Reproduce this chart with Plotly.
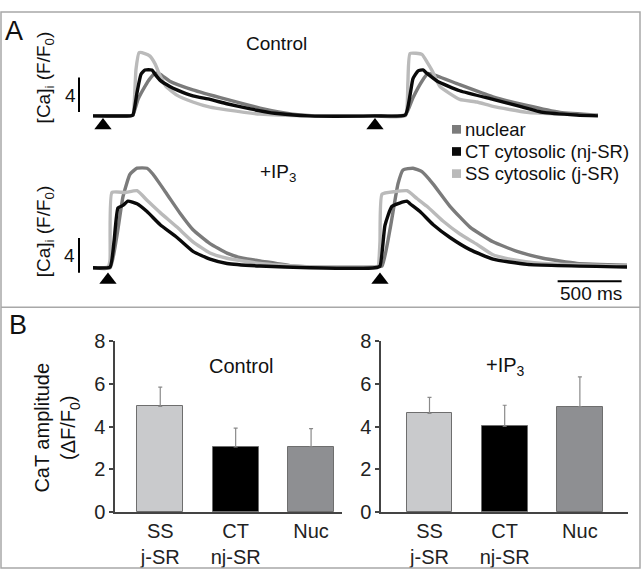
import plotly.graph_objects as go

W, H = 642, 581


def px(x):
    return x / W


def py(y):
    return 1 - y / H


# ---------------- data ----------------
# Panel A, Control: time (ms) and [Ca]i (F/F0)
ctrl_nuc_t = [0, 290, 312, 352, 406, 445, 485, 525, 600, 780, 1045, 1305, 1560, 1770, 2200,
              2440, 2500, 2570, 2617, 2690, 2865, 3125, 3390, 3650, 3945]
ctrl_nuc = [1.0, 1.0, 1.1, 2.9, 4.4, 5.3, 5.9, 5.8, 5.0, 4.0, 2.9, 1.9, 1.2, 1.0, 1.0,
            1.1, 3.1, 5.0, 5.9, 5.6, 4.6, 3.2, 2.2, 1.4, 1.1]

ctrl_ct_t = [0, 290, 312, 344, 375, 406, 460, 490, 525, 600, 655, 780, 915, 1045, 1230, 1420,
             1695, 2200, 2440, 2477, 2500, 2540, 2578, 2610, 2690, 2865, 3125, 3336, 3516,
             3780, 3945]
ctrl_ct = [1.0, 1.0, 1.1, 3.7, 5.8, 6.3, 6.3, 5.7, 5.1, 4.4, 4.0, 3.3, 2.9, 2.4, 1.8, 1.3,
           1.0, 1.0, 1.1, 3.4, 5.3, 6.2, 6.3, 5.9, 5.0, 3.9, 2.9, 2.1, 1.4, 1.1, 1.0]

ctrl_ss_t = [0, 290, 312, 336, 360, 405, 445, 485, 525, 570, 655, 780, 915, 1045, 1305, 1695,
             2200, 2440, 2460, 2477, 2570, 2610, 2650, 2710, 2865, 3000, 3125, 3390, 3650,
             3945]
ctrl_ss = [1.0, 1.0, 1.1, 6.4, 8.3, 8.2, 7.9, 7.0, 5.6, 4.4, 3.4, 2.6, 2.0, 1.7, 1.2, 1.0,
           1.0, 1.0, 4.8, 8.2, 8.1, 7.2, 6.2, 4.4, 2.9, 2.6, 2.1, 1.4, 1.2, 1.1]

ctrl_stim_t = [78, 2203]

# Panel A, +IP3
ip3_nuc_t = [0, 133, 188, 234, 289, 344, 422, 469, 578, 680, 781, 914, 1047, 1172, 1305, 1562,
             1695, 2203, 2258, 2320, 2383, 2422, 2500, 2570, 2656, 2789, 2945, 3125, 3313,
             3516, 3781, 4172]
ip3_nuc = [0.9, 0.9, 4.7, 9.1, 11.7, 12.4, 12.4, 11.7, 9.4, 7.2, 5.3, 3.7, 2.6, 2.0, 1.7, 1.1,
           1.0, 1.0, 1.1, 5.3, 10.6, 12.2, 12.4, 12.0, 10.6, 8.0, 5.6, 3.9, 2.8, 2.0, 1.4, 1.2]

ip3_ct_t = [0, 133, 164, 195, 234, 273, 344, 422, 523, 656, 781, 914, 1047, 1305, 1695, 2203,
            2242, 2281, 2336, 2453, 2477, 2555, 2656, 2789, 2945, 3125, 3391, 4172]
ip3_ct = [0.9, 1.0, 3.9, 7.8, 8.1, 8.6, 8.3, 7.4, 5.9, 4.4, 2.8, 1.9, 1.4, 1.1, 0.9, 0.9,
          1.1, 5.8, 8.0, 8.6, 8.3, 7.4, 5.9, 4.4, 3.0, 1.9, 1.3, 1.0]

ip3_ss_t = [0, 117, 133, 148, 250, 344, 422, 523, 656, 781, 914, 1047, 1305, 1562, 1695, 2203,
            2227, 2242, 2258, 2359, 2453, 2531, 2609, 2734, 2867, 3000, 3125, 3258, 3516, 4172]
ip3_ss = [0.9, 1.0, 1.8, 9.6, 9.6, 9.8, 8.7, 7.3, 5.6, 3.9, 2.6, 2.0, 1.4, 1.1, 1.0, 1.0,
          1.1, 3.9, 9.4, 9.7, 9.8, 8.9, 8.0, 6.3, 4.8, 3.6, 2.4, 1.9, 1.4, 1.1]

ip3_stim_t = [117, 2242]

# Panel B, CaT amplitude (dF/F0), mean and SEM
bar_cats = ["SS<br>j-SR", "CT<br>nj-SR", "Nuc"]
ctrl_amp = [4.95, 3.05, 3.05]
ctrl_sem = [0.90, 0.88, 0.86]
ip3_amp = [4.62, 4.02, 4.92]
ip3_sem = [0.75, 0.98, 1.40]

legend_names = ["nuclear", "CT cytosolic (nj-SR)", "SS cytosolic (j-SR)"]

# ---------------- style ----------------
FONT = "Liberation Sans, Arial, Helvetica, sans-serif"
C_NUC = "#7b7b7b"
C_CT = "#0a0a0a"
C_SS = "#bababa"
BAR_COLORS = ["#c9cacc", "#000000", "#8e8f92"]

fig = go.Figure()


def add_traces(series, xa, ya):
    for t, v, c in series:
        fig.add_trace(go.Scatter(x=t, y=v, mode="lines",
                                 line=dict(color=c, width=3.4, shape="spline", smoothing=0.45),
                                 xaxis=xa, yaxis=ya, showlegend=False, hoverinfo="skip"))


add_traces([(ctrl_nuc_t, ctrl_nuc, C_NUC), (ctrl_ss_t, ctrl_ss, C_SS),
            (ctrl_ct_t, ctrl_ct, C_CT)], "x", "y")
add_traces([(ip3_nuc_t, ip3_nuc, C_NUC), (ip3_ss_t, ip3_ss, C_SS),
            (ip3_ct_t, ip3_ct, C_CT)], "x2", "y2")

fig.add_trace(go.Scatter(x=ctrl_stim_t, y=[-0.1] * len(ctrl_stim_t), mode="markers",
                         marker=dict(symbol="triangle-up", size=15, color="black"),
                         xaxis="x", yaxis="y", showlegend=False, hoverinfo="skip"))
fig.add_trace(go.Scatter(x=ip3_stim_t, y=[-0.5] * len(ip3_stim_t), mode="markers",
                         marker=dict(symbol="triangle-up", size=15, color="black"),
                         xaxis="x2", yaxis="y2", showlegend=False, hoverinfo="skip"))

for amp, sem, xa, ya in [(ctrl_amp, ctrl_sem, "x3", "y3"), (ip3_amp, ip3_sem, "x4", "y4")]:
    fig.add_trace(go.Bar(
        x=bar_cats, y=amp, width=0.61,
        marker=dict(color=BAR_COLORS, line=dict(color="#6e6e6e", width=1)),
        error_y=dict(type="data", array=sem, arrayminus=[0] * len(sem), symmetric=False,
                     color="#8a8a8a", thickness=1.2, width=2),
        xaxis=xa, yaxis=ya, showlegend=False, hoverinfo="skip"))

hidden = dict(visible=False, fixedrange=True)
trace_dom_x = [px(93), px(627)]
bar_y = dict(range=[0, 8], tickvals=[0, 2, 4, 6, 8], showline=True, linecolor="#444",
             linewidth=1.5, ticks="outside", ticklen=4, tickcolor="#444", tickwidth=1.5,
             showgrid=False, zeroline=False, tickfont=dict(size=20, color="#222", family=FONT),
             domain=[py(521), py(343)])
bar_x = dict(showline=True, linecolor="#444", linewidth=1.5, ticks="", showgrid=False,
             tickfont=dict(size=20, color="#222", family=FONT), type="category")

fig.update_layout(
    width=W, height=H, margin=dict(l=0, r=0, t=0, b=0),
    paper_bgcolor="white", plot_bgcolor="rgba(0,0,0,0)",
    font=dict(family=FONT, color="#111"), showlegend=False, bargap=0,
    xaxis=dict(domain=trace_dom_x, range=[0, 4172], anchor="y", **hidden),
    yaxis=dict(domain=[py(125), py(30)], range=[-0.778, 9.778], anchor="x", **hidden),
    xaxis2=dict(domain=trace_dom_x, range=[0, 4172], anchor="y2", **hidden),
    yaxis2=dict(domain=[py(285), py(150)], range=[-1.111, 13.889], anchor="x2", **hidden),
    xaxis3=dict(domain=[px(115), px(342)], range=[-0.6, 2.41], anchor="y3", **bar_x),
    yaxis3=dict(anchor="x3", **bar_y),
    xaxis4=dict(domain=[px(381), px(628)], range=[-0.645, 2.64], anchor="y4", **bar_x),
    yaxis4=dict(anchor="x4", **bar_y),
)

shapes = [
    dict(type="rect", xref="paper", yref="paper", x0=px(1), x1=px(640), y0=py(579), y1=py(1),
         line=dict(color="#a8a8a8", width=1.5)),
    dict(type="line", xref="paper", yref="paper", x0=px(1), x1=px(640), y0=py(308), y1=py(308),
         line=dict(color="#a8a8a8", width=1.5)),
    dict(type="line", xref="paper", yref="y", x0=px(79), x1=px(79), y0=1.44, y1=5.44,
         line=dict(color="black", width=2)),
    dict(type="line", xref="paper", yref="y2", x0=px(79), x1=px(79), y0=0.33, y1=4.33,
         line=dict(color="black", width=2)),
    dict(type="line", xref="x2", yref="y2", x0=3630, x1=4130, y0=-0.667, y1=-0.667,
         line=dict(color="black", width=2)),
]
leg_colors = [C_NUC, C_CT, C_SS]
leg_y = [123, 146, 169]
for c, yy in zip(leg_colors, leg_y):
    shapes.append(dict(type="rect", xref="paper", yref="paper", x0=px(452), x1=px(461),
                       y0=py(yy + 4.5), y1=py(yy - 4.5), fillcolor=c, line=dict(width=0)))
fig.update_layout(shapes=shapes)


def ann(x, y, text, size=19, xanchor="center", angle=0):
    return dict(x=px(x), y=py(y), xref="paper", yref="paper", text=text, showarrow=False,
                xanchor=xanchor, yanchor="middle", textangle=angle,
                font=dict(size=size, family=FONT, color="#111"))


annotations = [
    ann(14, 21, "A", size=27),
    ann(18, 326, "B", size=27),
    ann(276, 34, "Control"),
    ann(278, 168, "+IP<sub>3</sub>"),
    ann(45, 69, "[Ca]<sub>i</sub> (F/F<sub>0</sub>)", angle=-90),
    ann(45, 229, "[Ca]<sub>i</sub> (F/F<sub>0</sub>)", angle=-90),
    ann(70, 88, "4"),
    ann(69, 254, "4"),
    ann(591, 294, "500 ms"),
    ann(241, 369, "Control", size=20),
    ann(505, 370, "+IP<sub>3</sub>", size=20),
    ann(57, 433, "CaT amplitude<br>(ΔF/F<sub>0</sub>)", size=20, angle=-90),
]
for name, yy in zip(legend_names, leg_y):
    annotations.append(ann(463, yy, name, size=18.5, xanchor="left"))
fig.update_layout(annotations=annotations)

fig.write_html("out.html",
               config={"displayModeBar": False},
               post_script="document.body.style.margin='0px';"
                           "document.body.style.overflow='hidden';")
